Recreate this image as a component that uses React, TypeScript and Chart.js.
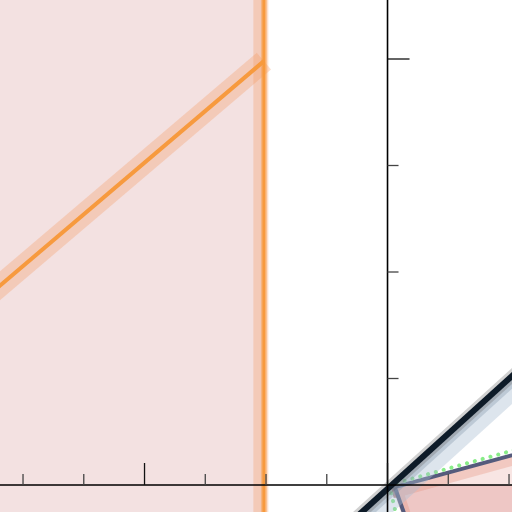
import React, { useEffect, useRef } from "react";
import { Chart, registerables } from "chart.js";

Chart.register(...registerables);

// Axis window (data units)
const X_RANGE = [-6.379, 2.049];
const Y_RANGE = [-0.2535, 4.554];

// Tick positions
const X_TICKS = [-6, -5, -4, -3, -2, -1, 0, 1, 2];
const Y_TICKS = [1, 2, 3, 4];
const MAJOR_EVERY = 4;

// Shaded span (left of boundary)
const SPAN_X = [-8, -2.035];
const SPAN_TOP = 6;

// Orange rising line
const ORANGE_X = [-7, -2.035];
const ORANGE_Y = [1.57, 3.98];

// Orange vertical boundary
const VLINE_X = -2.035;
const VLINE_SHADOW_X = -2.085;
const VLINE_Y = [-1, 6];

// Dark diagonal line
const DARK_X = [-1, 3];
const DARK_Y = [-0.553, 1.515];
const DARK_SHADOW_Y = [-0.69, 1.378];

// Slate polygon outline
const POLY_X = [0.12, 2.6, 2.6, 0.48, 0.12];
const POLY_Y = [-0.02, 0.365, -0.6, -0.6, -0.02];

// Lower part of polygon (below zero)
const LOW_X = [0.107, 2.6, 2.6, 0.48, 0.107];
const LOW_Y = [0, 0, -0.6, -0.6, 0];

// Inner band along polygon edges
const BAND_X = [0.5, 0.19, 2.6];
const BAND_Y = [-0.6, -0.07, 0.31];

// Dark patch near the vertex
const PATCH_X = [0.05, 0.13, 0.16, 0.1, 0.05];
const PATCH_Y = [0.0, -0.02, -0.12, -0.12, 0.0];

// Green dotted path
const GREEN_X = [0.15, 0.03, 2.6];
const GREEN_Y = [-0.3, 0.0, 0.41];

const pts = (xs: number[], ys: number[]) => xs.map((x, i) => ({ x, y: ys[i] }));

const axesPlugin = {
  id: "crossAxes",
  afterDatasetsDraw(chart: any) {
    const { ctx, scales, chartArea } = chart;
    const xs = scales.x;
    const ys = scales.y;
    const x0 = xs.getPixelForValue(0);
    const y0 = ys.getPixelForValue(0);
    ctx.save();
    ctx.strokeStyle = "#000";
    ctx.lineWidth = 1.6;
    ctx.beginPath();
    ctx.moveTo(chartArea.left, y0);
    ctx.lineTo(chartArea.right, y0);
    ctx.moveTo(x0, chartArea.top);
    ctx.lineTo(x0, chartArea.bottom);
    ctx.stroke();
    ctx.lineWidth = 1.3;
    X_TICKS.forEach((t) => {
      const px = xs.getPixelForValue(t);
      const major = t % MAJOR_EVERY === 0;
      ctx.strokeStyle = major ? "#111" : "#444";
      ctx.beginPath();
      ctx.moveTo(px, y0);
      ctx.lineTo(px, y0 - (major ? 22 : 11));
      ctx.stroke();
    });
    Y_TICKS.forEach((t) => {
      const py = ys.getPixelForValue(t);
      const major = t % MAJOR_EVERY === 0;
      ctx.strokeStyle = major ? "#111" : "#444";
      ctx.beginPath();
      ctx.moveTo(x0, py);
      ctx.lineTo(x0 + (major ? 22 : 11), py);
      ctx.stroke();
    });
    ctx.restore();
  },
};

export default function App() {
  const ref = useRef<HTMLCanvasElement>(null);
  useEffect(() => {
    if (!ref.current) return;
    const line = (data: any, color: string, width: number, order: number, extra: any = {}) => ({
      data,
      borderColor: color,
      borderWidth: width,
      pointRadius: 0,
      fill: false,
      order,
      ...extra,
    });
    const chart = new Chart(ref.current, {
      type: "line",
      data: {
        datasets: [
          line(pts(SPAN_X, [SPAN_TOP, SPAN_TOP]), "rgba(0,0,0,0)", 0, 30, {
            fill: "start",
            backgroundColor: "rgba(200,120,120,0.22)",
          }),
          line(pts(ORANGE_X, ORANGE_Y), "rgba(245,150,90,0.3)", 22, 29),
          line(pts([VLINE_SHADOW_X, VLINE_SHADOW_X], VLINE_Y), "rgba(245,150,90,0.3)", 15, 28),
          line(pts([VLINE_X, VLINE_X], VLINE_Y), "rgba(247,160,74,0.5)", 6, 27),
          line(pts(ORANGE_X, ORANGE_Y), "#f79a3e", 4, 26),
          line(pts([VLINE_X, VLINE_X], VLINE_Y), "#f79a3e", 3, 25),
          line(pts(POLY_X, POLY_Y), "rgba(0,0,0,0)", 0, 24, {
            fill: "shape",
            backgroundColor: "rgba(215,110,100,0.18)",
          }),
          line(pts(LOW_X, LOW_Y), "rgba(0,0,0,0)", 0, 23, {
            fill: "shape",
            backgroundColor: "rgba(205,100,100,0.23)",
          }),
          line(pts(BAND_X, BAND_Y), "rgba(230,140,115,0.3)", 9, 22),
          line(pts(PATCH_X, PATCH_Y), "rgba(0,0,0,0)", 0, 21, {
            fill: "shape",
            backgroundColor: "rgba(120,40,40,0.55)",
          }),
          line(pts(POLY_X, POLY_Y), "#555b7c", 4, 20, { borderJoinStyle: "miter" }),
          line(pts(GREEN_X, GREEN_Y), "#88ec88", 4, 19, {
            borderDash: [0.1, 8],
            borderCapStyle: "round",
          }),
          line(pts(DARK_X, DARK_SHADOW_Y), "rgba(170,190,210,0.4)", 20, 10),
          line(pts(DARK_X, DARK_SHADOW_Y.map((v, i) => (v + DARK_Y[i]) / 2)), "rgba(130,150,170,0.35)", 8, 9),
          line(pts(DARK_X, DARK_Y), "rgba(90,90,90,0.28)", 12, 8),
          line(pts(DARK_X, DARK_Y), "#0e1b28", 6, 7),
        ],
      },
      options: {
        animation: false,
        responsive: true,
        maintainAspectRatio: false,
        layout: { padding: 0 },
        scales: {
          x: { type: "linear", min: X_RANGE[0], max: X_RANGE[1], display: false },
          y: { type: "linear", min: Y_RANGE[0], max: Y_RANGE[1], display: false },
        },
        plugins: { legend: { display: false }, tooltip: { enabled: false } },
        elements: { line: { tension: 0 } },
      },
      plugins: [axesPlugin],
    });
    return () => chart.destroy();
  }, []);
  return (
    <div style={{ position: "fixed", left: 0, top: 0, width: 512, height: 512, background: "#fff" }}>
      <canvas ref={ref} />
    </div>
  );
}
